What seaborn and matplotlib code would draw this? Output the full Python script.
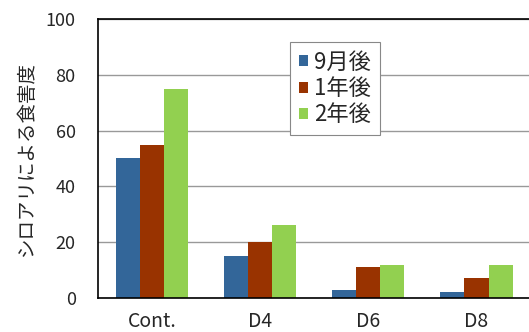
import pandas as pd
import numpy as np
import matplotlib
matplotlib.use("Agg")
import matplotlib.pyplot as plt
import seaborn as sns

# data
groups = ["Cont.", "D4", "D6", "D8"]
periods = ["9月後", "1年後", "2年後"]
after_9m = [50, 15, 3, 2]
after_1y = [55, 20, 11, 7]
after_2y = [75, 26, 12, 12]
colors = ["#336699", "#993300", "#92D050"]

df = pd.DataFrame({
    "group": groups * 3,
    "period": [periods[0]] * 4 + [periods[1]] * 4 + [periods[2]] * 4,
    "value": after_9m + after_1y + after_2y,
})

sns.set_style("white")
plt.rcParams["font.family"] = ["Noto Sans CJK JP", "DejaVu Sans"]

fig = plt.figure(figsize=(5.29, 3.32), dpi=100)
ax = fig.add_axes([0.185, 0.1024, 0.818, 0.8404])

sns.barplot(data=df, x="group", y="value", hue="period", palette=colors,
            width=0.667, gap=0, saturation=1, edgecolor="none", ax=ax)

ax.set_ylim(0, 100)
ax.set_yticks(np.arange(0, 101, 20))
ax.yaxis.grid(True, color="#999999", linewidth=1)
ax.set_axisbelow(True)
for s in ["left", "bottom", "top"]:
    ax.spines[s].set_color("black")
    ax.spines[s].set_linewidth(1.2)
ax.spines["right"].set_visible(False)
ax.tick_params(axis="both", length=0, labelsize=13)
ax.tick_params(axis="x", pad=9, labelsize=14)
ax.tick_params(axis="y", pad=16)
ax.set_xlabel("")
ax.set_ylabel("シロアリによる食害度", fontsize=14, labelpad=6)

leg = ax.legend(loc="upper left", bbox_to_anchor=(0.445, 0.918), fontsize=16,
                handlelength=0.4, handleheight=0.4, handletextpad=0.25,
                labelspacing=0.15, borderpad=0.4, borderaxespad=0,
                fancybox=False, framealpha=1)
leg.get_frame().set_edgecolor("#888888")
leg.get_frame().set_linewidth(0.8)

fig.savefig("out.png", dpi=100)
